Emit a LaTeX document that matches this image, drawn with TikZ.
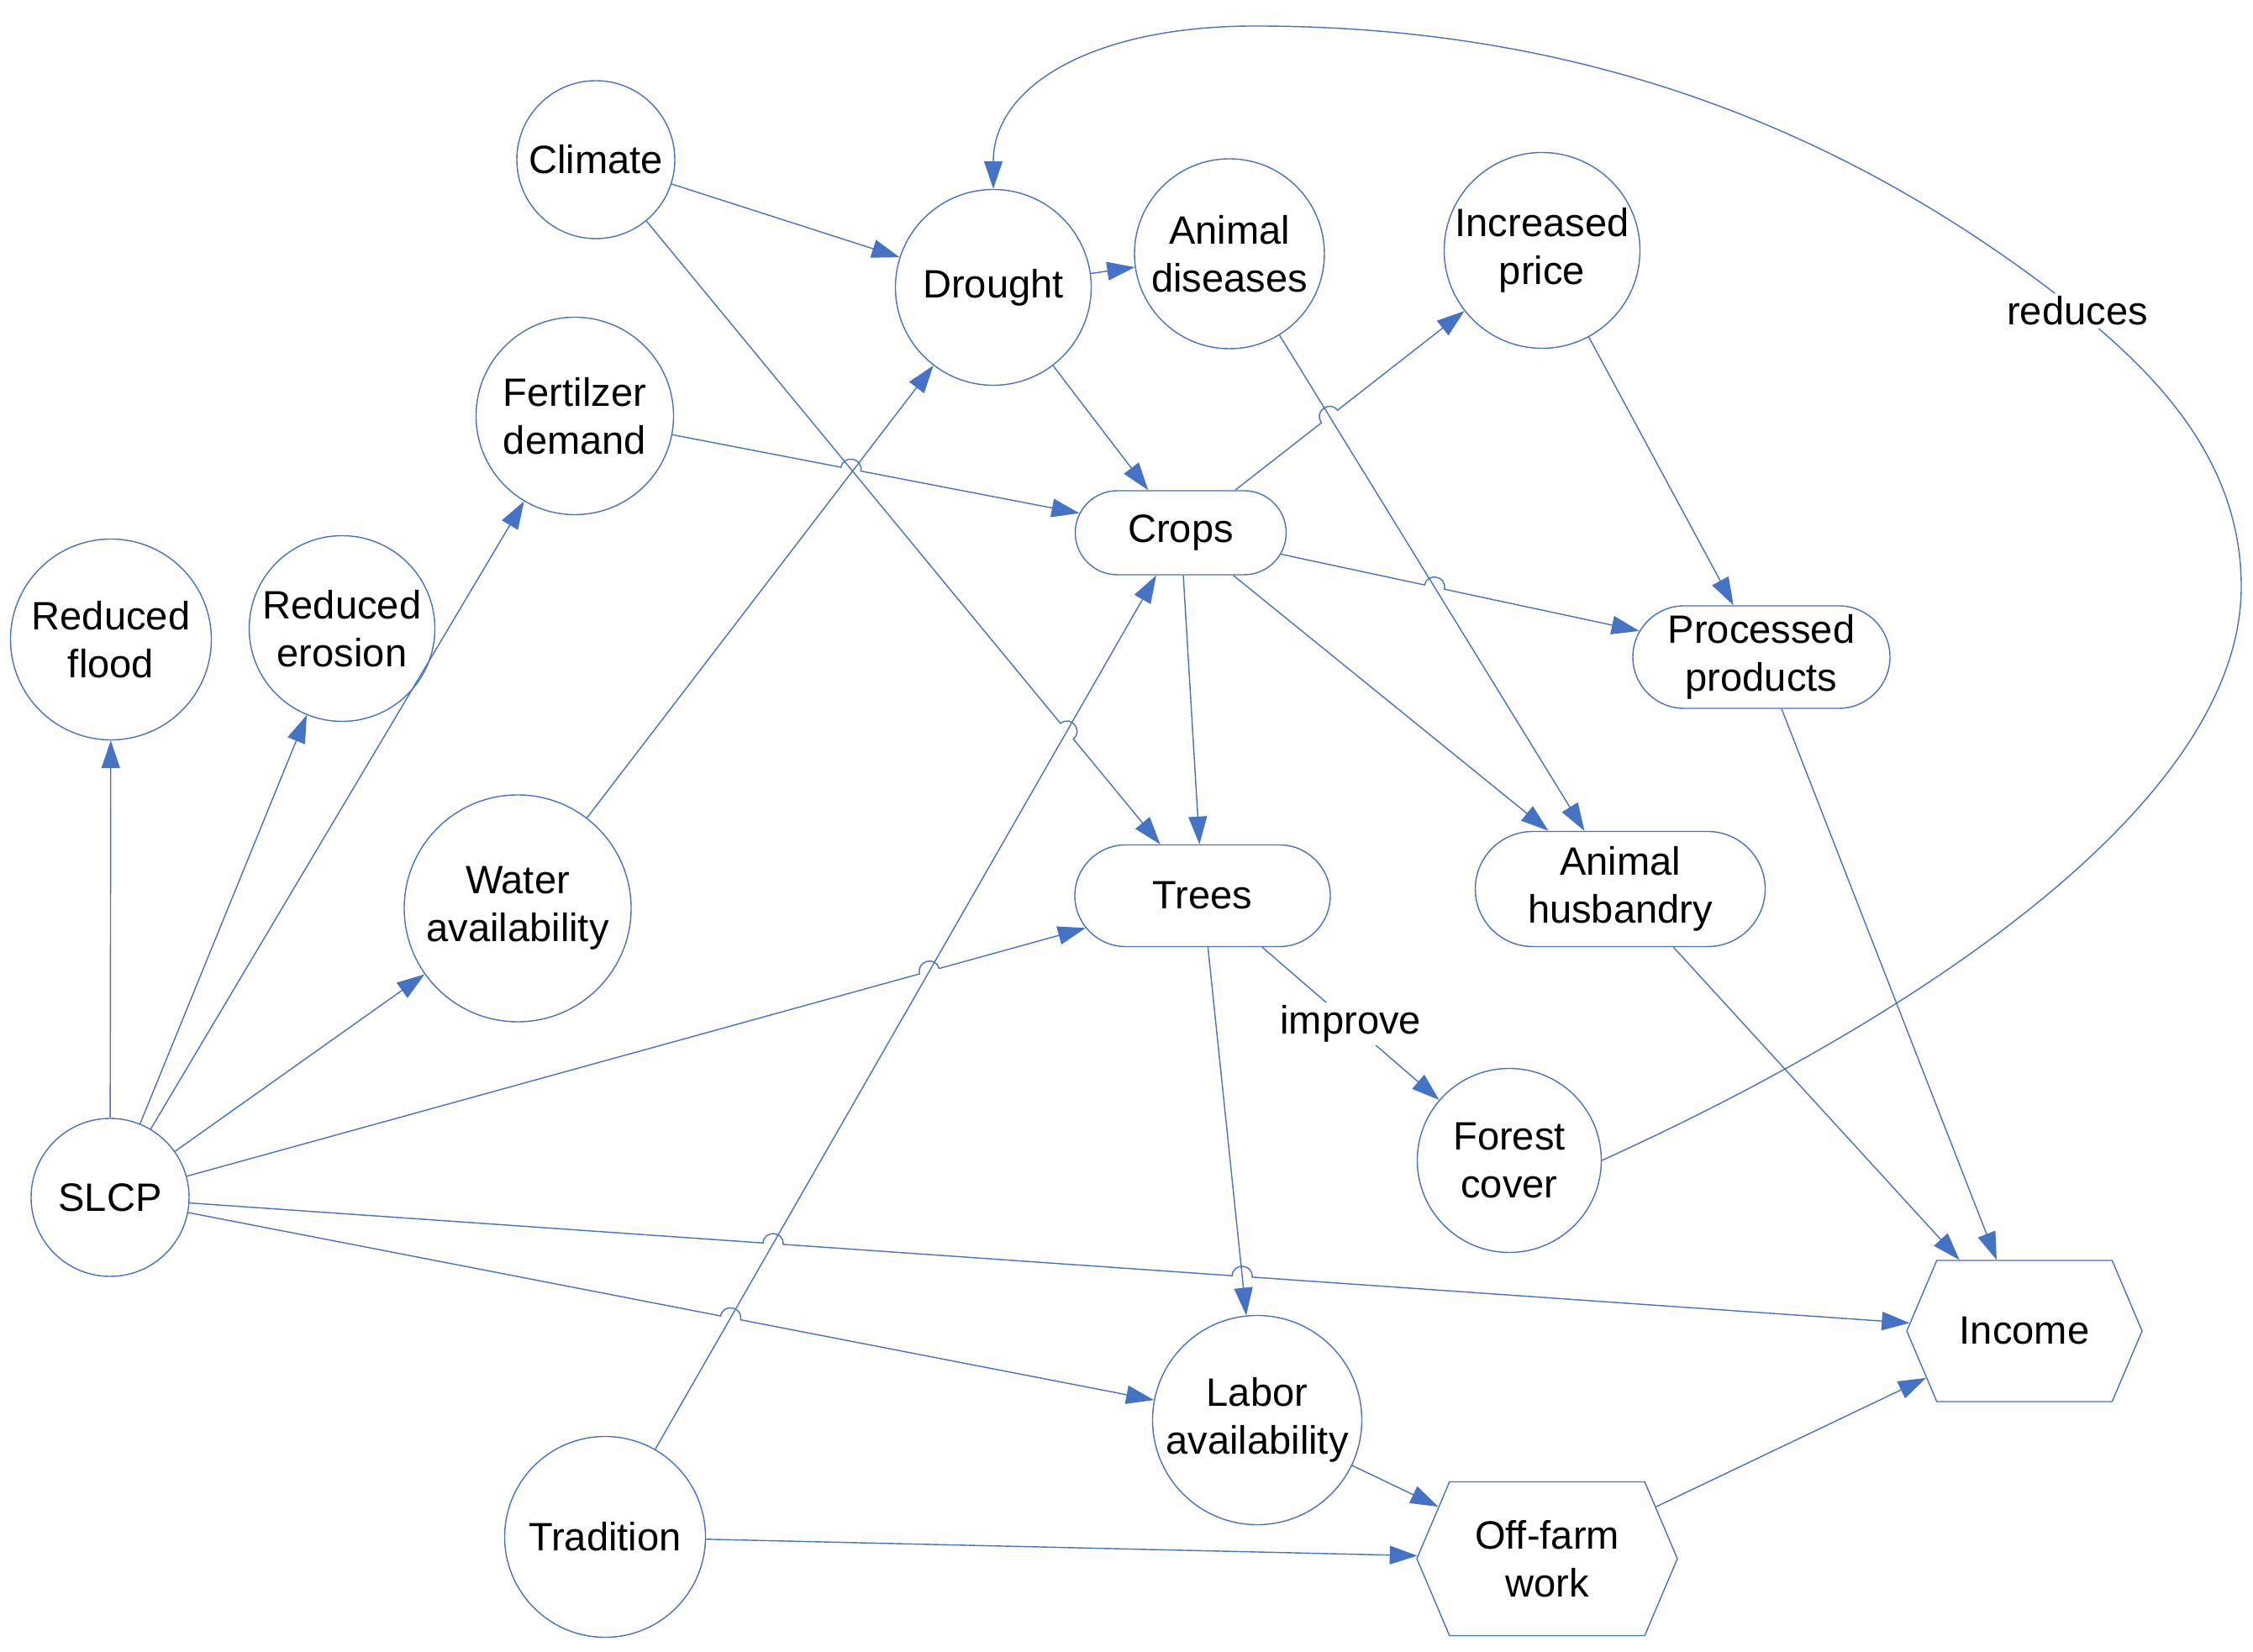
\documentclass[tikz,border=0pt]{standalone}
\usepackage{fontspec}
\setmainfont{Liberation Sans}
\usepackage{tikz}
\usetikzlibrary{shapes.geometric, shapes.misc, shapes.symbols, arrows.meta, calc, intersections}
\definecolor{lineblue}{HTML}{4472C4}
\newcommand{\hopsize}{0.12cm}

\begin{document}
\begin{tikzpicture}[
    factor/.style={circle, draw=lineblue, line width=0.4pt, inner sep=0pt, align=center, font=\fontsize{13.4}{16.3}\selectfont},
    pill/.style={rounded rectangle, draw=lineblue, line width=0.4pt, inner sep=0pt, align=center, font=\fontsize{13.4}{16.3}\selectfont},
    outcome/.style={signal, signal to=east and west, signal pointer angle=134, draw=lineblue, line width=0.4pt, inner sep=0pt, align=center, font=\fontsize{13.4}{16.3}\selectfont},
    linklabel/.style={fill=white, inner sep=1pt, font=\fontsize{13.4}{16.3}\selectfont},
    arrow/.style={-{Triangle[length=3.3mm, width=2.2mm]}, draw=lineblue, line width=0.4pt},
    hopover/.style={bend left=90, looseness=1.7}
]
\useasboundingbox (0,0) rectangle (26.81,19.65);

% Factors (circles)
\node[factor, minimum size=1.88cm] (climate) at (7.09,17.75) {Climate};
\node[factor, minimum size=2.33cm] (drought) at (11.82,16.23) {Drought};
\node[factor, minimum size=2.26cm] (disease) at (14.63,16.63) {Animal\\diseases};
\node[factor, minimum size=2.33cm] (price) at (18.35,16.67) {Increased\\price};
\node[factor, minimum size=2.35cm] (fert) at (6.84,14.70) {Fertilzer\\demand};
\node[factor, minimum size=2.39cm] (flood) at (1.32,12.04) {Reduced\\flood};
\node[factor, minimum size=2.21cm] (erosion) at (4.07,12.17) {Reduced\\erosion};
\node[factor, minimum size=2.70cm] (water) at (6.16,8.84) {Water\\availability};
\node[factor, minimum size=1.88cm] (slcp) at (1.31,5.40) {SLCP};
\node[factor, minimum size=2.39cm] (tradition) at (7.20,1.36) {Tradition};
\node[factor, minimum size=2.49cm] (labor) at (14.96,2.75) {Labor\\availability};
\node[factor, minimum size=2.19cm] (forest) at (17.96,5.84) {Forest\\cover};

% Activities (rounded boxes)
\node[pill, minimum width=2.51cm, minimum height=1.00cm] (crops) at (14.05,13.31) {Crops};
\node[pill, minimum width=3.04cm, minimum height=1.21cm] (trees) at (14.31,8.99) {Trees};
\node[pill, minimum width=3.06cm, minimum height=1.22cm] (processed) at (20.96,11.83) {Processed\\products};
\node[pill, minimum width=3.45cm, minimum height=1.37cm] (husbandry) at (19.28,9.07) {Animal\\husbandry};

% Outcomes (hexagons)
\node[outcome, minimum width=2.80cm, minimum height=1.68cm] (income) at (24.09,3.81) {Income};
\node[outcome, minimum width=3.10cm, minimum height=1.83cm] (offfarm) at (18.41,1.10) {Off-farm\\work};

% Plain arrows
\draw[arrow] (climate) -- (drought);
\draw[arrow] (drought) -- (disease);
\draw[arrow] (drought) -- (crops);
\draw[arrow] (water) -- (drought);
\draw[arrow] (disease) -- (husbandry);
\draw[arrow] (price) -- (processed);
\draw[arrow] (crops) -- (trees);
\draw[arrow] (crops) -- (husbandry);
\draw[arrow] (processed) -- (income);
\draw[arrow] (husbandry) -- (income);
\draw[arrow] (trees) -- (labor);
\draw[arrow] (slcp) -- (flood);
\draw[arrow] (slcp) -- (erosion);
\draw[arrow] (slcp) -- (fert);
\draw[arrow] (slcp) -- (water);
\draw[arrow] (tradition) -- (crops);
\draw[arrow] (tradition) -- (offfarm);
\draw[arrow] (labor) -- (offfarm);
\draw[arrow] (offfarm) -- (income);
\draw[arrow] (trees) -- node[linklabel] (improvetag) {improve} (forest);

% Crossing points for the line hops
\path[name path=climtrees] (climate) -- (trees);
\path[name path=fertcrops] (fert) -- (crops);
\path[name path=diseasehusb] (disease) -- (husbandry);
\path[name path=cropsprice] (crops) -- (price);
\path[name path=cropsproc] (crops) -- (processed);
\path[name path=tradcrops] (tradition) -- (crops);
\path[name path=treeslabor] (trees) -- (labor);
\path[name path=slcptrees] (slcp) -- (trees);
\path[name path=slcpincome] (slcp) -- (income);
\path[name path=slcplabor] (slcp) -- (labor);
\path[name intersections={of=fertcrops and climtrees, by=x1}];
\path[name intersections={of=cropsprice and diseasehusb, by=x2}];
\path[name intersections={of=cropsproc and diseasehusb, by=x3}];
\path[name intersections={of=climtrees and tradcrops, by=x4}];
\path[name intersections={of=slcptrees and tradcrops, by=x5}];
\path[name intersections={of=slcpincome and tradcrops, by=x6}];
\path[name intersections={of=slcpincome and treeslabor, by=x7}];
\path[name intersections={of=slcplabor and tradcrops, by=x8}];

% Arrows with hops
\draw[arrow] (fert) -- ($(x1)!\hopsize!(fert)$) to[hopover] ($(x1)!\hopsize!(crops)$) -- (crops);
\draw[arrow] (crops) -- ($(x2)!\hopsize!(crops)$) to[hopover] ($(x2)!\hopsize!(price)$) -- (price);
\draw[arrow] (crops) -- ($(x3)!\hopsize!(crops)$) to[hopover] ($(x3)!\hopsize!(processed)$) -- (processed);
\draw[arrow] (climate) -- ($(x4)!\hopsize!(climate)$) to[hopover] ($(x4)!\hopsize!(trees)$) -- (trees);
\draw[arrow] (slcp) -- ($(x5)!\hopsize!(slcp)$) to[hopover] ($(x5)!\hopsize!(trees)$) -- (trees);
\draw[arrow] (slcp) -- ($(x6)!\hopsize!(slcp)$) to[hopover] ($(x6)!\hopsize!(income)$)
    -- ($(x7)!\hopsize!(slcp)$) to[hopover] ($(x7)!\hopsize!(income)$) -- (income);
\draw[arrow] (slcp) -- ($(x8)!\hopsize!(slcp)$) to[hopover] ($(x8)!\hopsize!(labor)$) -- (labor);

% Feedback loop
\draw[arrow] (forest.east) .. controls (22.74,7.51) and (26.67,10.07) .. (26.67,12.67)
    .. controls (26.67,14.17) and (25.65,15.20) .. (24.72,15.95) node[linklabel] (reducestag) {reduces}
    .. controls (21.37,18.62) and (17.95,19.34) .. (14.93,19.34)
    .. controls (12.99,19.34) and (11.82,18.62) .. (drought.north);
\end{tikzpicture}
\end{document}
